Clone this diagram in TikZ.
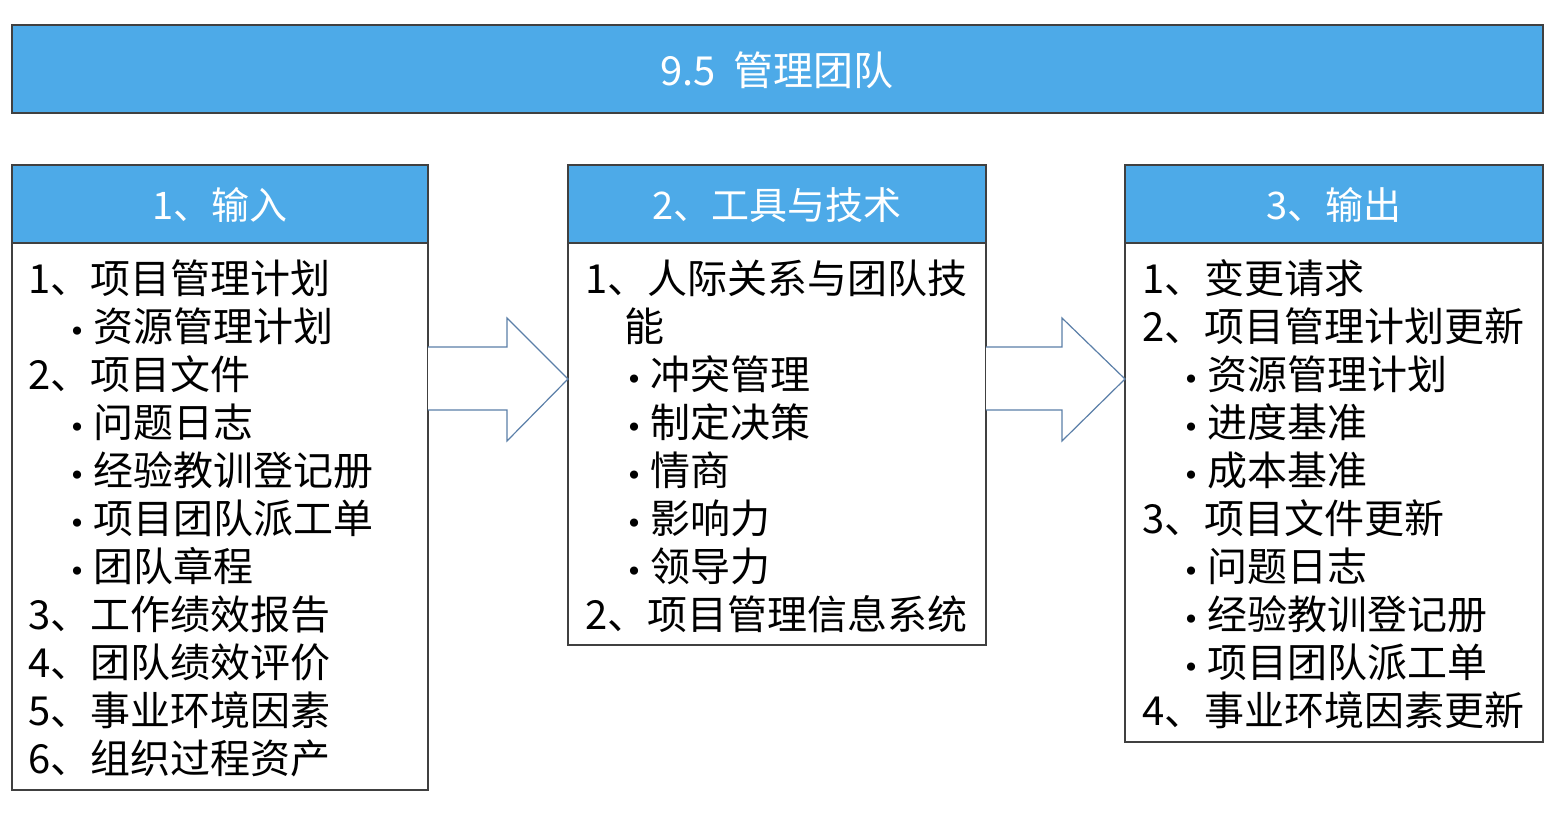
\documentclass[tikz,border=0pt]{standalone}
\usepackage{fontspec}
\setmainfont{Noto Sans CJK SC}
\newfontfamily\bulfont{DejaVu Sans}
\newcommand{\bl}{\makebox[0pt][r]{{\bulfont\fontsize{14pt}{14pt}\selectfont •}\hspace{4pt}}}
\definecolor{hb}{HTML}{4DAAE8}
\definecolor{ar}{HTML}{5B7FA8}
\begin{document}
\begin{tikzpicture}[x=0.5pt,y=-0.5pt,
  hdr/.style={draw=black!75,fill=hb,line width=0.7pt},
  body/.style={draw=black!75,fill=white,line width=0.7pt},
  ht/.style={text=white,font=\fontsize{19pt}{22pt}\selectfont,inner sep=0pt},
  it/.style={anchor=west,inner sep=0pt,font=\fontsize{20pt}{23pt}\selectfont},
  bar/.style={draw=ar,fill=white,line width=0.6pt}]
\useasboundingbox (0,0) rectangle (1560,834);
\draw[hdr] (12,25) rectangle (1543,113);
\node[ht,font=\fontsize{20pt}{24pt}\selectfont] (title) at (777,70) {9.5\ \ 管理团队};
% boxes
\draw[body] (12,243) rectangle (428,790);
\draw[hdr] (12,165) rectangle (428,243);
\node[ht] (h1) at (220,205) {1、输入};
\draw[body] (568,243) rectangle (986,645);
\draw[hdr] (568,165) rectangle (986,243);
\node[ht] (h2) at (777,205) {2、工具与技术};
\draw[body] (1125,243) rectangle (1543,742);
\draw[hdr] (1125,165) rectangle (1543,243);
\node[ht] (h3) at (1334,205) {3、输出};
% arrows
\draw[bar] (428,347) -- (507,347) -- (507,318) -- (568,379) -- (507,441) -- (507,410) -- (428,410) ;
\draw[bar] (986,347) -- (1062,347) -- (1062,318) -- (1125,379) -- (1062,441) -- (1062,410) -- (986,410) ;
% left
\foreach \t/\x [count=\i] in {1、项目管理计划/28, \bl 资源管理计划/93, 2、项目文件/28, \bl 问题日志/93, \bl 经验教训登记册/93, \bl 项目团队派工单/93, \bl 团队章程/93, 3、工作绩效报告/28, 4、团队绩效评价/28, 5、事业环境因素/28, 6、组织过程资产/28}
  \node[it] (l\i) at (\x,{278+48*(\i-1)}) {\t};
% middle
\foreach \t/\x [count=\i] in {1、人际关系与团队技/585, 能/624, \bl 冲突管理/650, \bl 制定决策/650, \bl 情商/650, \bl 影响力/650, \bl 领导力/650, 2、项目管理信息系统/585}
  \node[it] (m\i) at (\x,{278+48*(\i-1)}) {\t};
% right
\foreach \t/\x [count=\i] in {1、变更请求/1142, 2、项目管理计划更新/1142, \bl 资源管理计划/1207, \bl 进度基准/1207, \bl 成本基准/1207, 3、项目文件更新/1142, \bl 问题日志/1207, \bl 经验教训登记册/1207, \bl 项目团队派工单/1207, 4、事业环境因素更新/1142}
  \node[it] (r\i) at (\x,{278+48*(\i-1)}) {\t};
\end{tikzpicture}
\end{document}
